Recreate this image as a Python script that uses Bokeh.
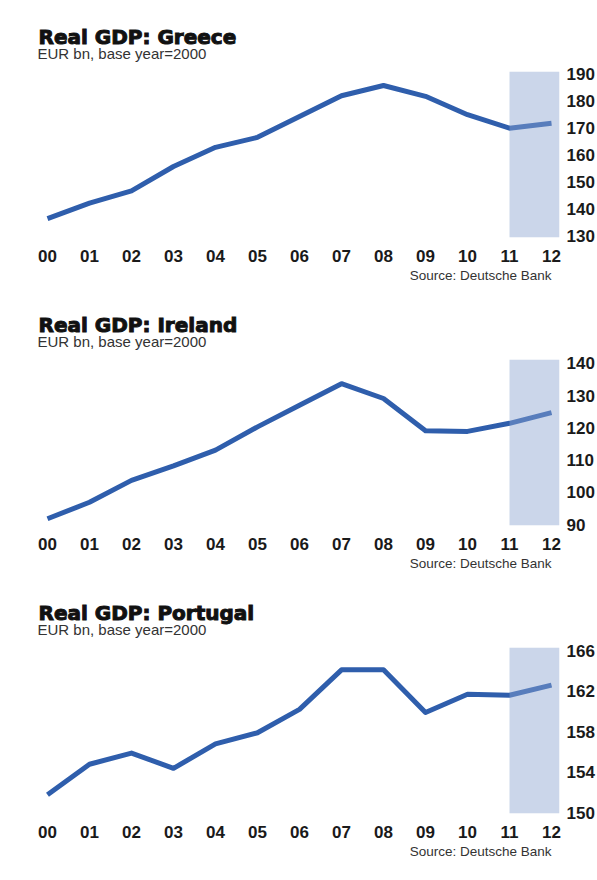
from bokeh.plotting import figure
from bokeh.models import Range1d, LinearAxis, FixedTicker, BoxAnnotation, Title, CustomJSTickFormatter
from bokeh.layouts import column
from bokeh.embed import file_html
from bokeh.resources import INLINE

years = [0, 1, 2, 3, 4, 5, 6, 7, 8, 9, 10, 11, 12]
year_labels = ["00", "01", "02", "03", "04", "05", "06", "07", "08", "09", "10", "11", "12"]

greece = [136.6, 142.3, 146.9, 155.9, 163.0, 166.7, 174.4, 182.1, 185.9, 181.9, 175.1, 170.1, 171.9]
ireland = [91.8, 96.9, 103.7, 108.2, 113.1, 120.3, 127.0, 133.7, 129.1, 119.1, 118.9, 121.4, 124.7]
portugal = [151.8, 154.8, 155.9, 154.4, 156.8, 157.9, 160.2, 164.1, 164.1, 159.9, 161.7, 161.6, 162.6]

greece_ticks = [130, 140, 150, 160, 170, 180, 190]
ireland_ticks = [90, 100, 110, 120, 130, 140]
portugal_ticks = [150, 154, 158, 162, 166]

forecast_start = 11

panels = [
    ("Real GDP: Greece", greece, greece_ticks, (129.6, 191.1)),
    ("Real GDP: Ireland", ireland, ireland_ticks, (89.7, 141.2)),
    ("Real GDP: Portugal", portugal, portugal_ticks, (149.95, 166.3)),
]

LINE = "#2F5EAC"
TXT = "#1a1a1a"

figs = []
for title, vals, ticks, yr in panels:
    p = figure(width=597, height=288, output_backend="svg", toolbar_location=None,
               x_range=Range1d(-0.214, 12.19), y_range=Range1d(*yr),
               min_border_left=38, min_border_right=38, min_border_top=71, min_border_bottom=51,
               x_axis_location=None, y_axis_location=None)
    p.outline_line_color = None
    p.grid.visible = False
    p.background_fill_color = "white"
    p.border_fill_color = "white"

    p.line(years, vals, line_color=LINE, line_width=5, line_join="round")
    p.add_layout(BoxAnnotation(left=forecast_start, fill_color="#8BA4D0", fill_alpha=0.45,
                               line_color=None, level="overlay"))

    xa = LinearAxis(ticker=FixedTicker(ticks=years),
                    formatter=CustomJSTickFormatter(args=dict(labs=year_labels), code="return labs[index];"))
    xa.axis_line_color = None
    xa.major_tick_line_color = None
    xa.minor_tick_line_color = None
    xa.major_tick_out = 0
    xa.major_label_standoff = 12
    xa.major_label_text_font = "Liberation Sans"
    xa.major_label_text_font_style = "bold"
    xa.major_label_text_font_size = "17px"
    xa.major_label_text_color = TXT
    p.add_layout(xa, "below")

    ya = LinearAxis(ticker=FixedTicker(ticks=ticks))
    ya.axis_line_color = None
    ya.major_tick_line_color = None
    ya.minor_tick_line_color = None
    ya.major_tick_out = 0
    ya.major_label_standoff = 7
    ya.major_label_text_font = "Liberation Sans"
    ya.major_label_text_font_style = "bold"
    ya.major_label_text_font_size = "17px"
    ya.major_label_text_color = TXT
    p.add_layout(ya, "right")

    p.title.text = ""
    p.add_layout(Title(text="EUR bn, base year=2000", align="left", offset=-1, standoff=20,
                       text_font="Liberation Sans", text_font_style="normal", text_font_size="15px",
                       text_color="#333333"), "above")
    p.add_layout(Title(text=title, align="left", offset=0, standoff=-32,
                       text_font="DejaVu Sans", text_font_style="bold", text_font_size="20px",
                       text_color="#111111", text_outline_color="#111111"), "above")
    p.add_layout(Title(text="Source: Deutsche Bank", align="right", offset=8, standoff=2,
                       text_font="Liberation Sans", text_font_style="normal", text_font_size="13.5px",
                       text_color="#333333"), "below")
    figs.append(p)

layout = column(*figs, spacing=0)
open("out.html", "w").write(file_html(layout, INLINE))
